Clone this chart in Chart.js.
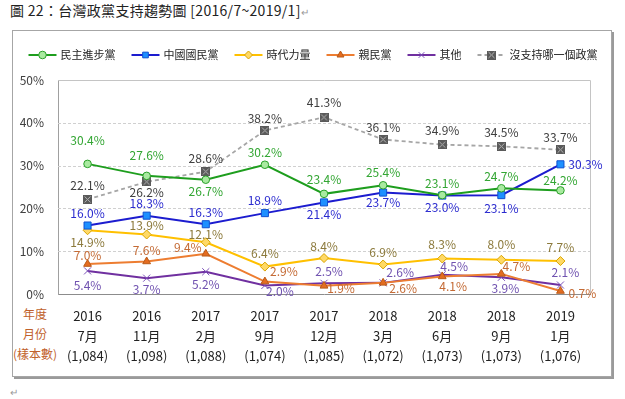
<!DOCTYPE html>
<html lang="zh-Hant">
<head>
<meta charset="UTF-8">
<title>台灣政黨支持趨勢圖</title>
<script src="https://cdn.jsdelivr.net/npm/chart.js@4"></script>
<style>
  body { margin: 0; width: 625px; height: 399px; background: #fff; position: relative; overflow: hidden;
         font-family: "Noto Sans CJK TC", "Noto Sans", sans-serif; }
  #title { position: absolute; left: 10px; top: 0; font-size: 14px; line-height: 20px; color: #222; white-space: nowrap; letter-spacing: 0.3px; }
  .ret { color: #999; font-size: 10px; }
  #box { position: absolute; left: 12px; top: 30px; width: 598px; height: 345px;
         border: 1px solid #a6a6a6; box-shadow: 2px 2px 0 #9a9a9a; }
  #chart { position: absolute; left: 0; top: 0; }
  .side { position: absolute; left: 5px; width: 60px; text-align: center; color: #c0612b; font-size: 12px; line-height: 16px; }
</style>
</head>
<body>
  <div id="title">圖 22：台灣政黨支持趨勢圖 [2016/7~2019/1]<span class="ret">↵</span></div>
  <div id="box"></div>
  <div class="side" style="top:306px">年度</div>
  <div class="side" style="top:326px">月份</div>
  <div class="side" style="top:346px">(樣本數)</div>
  <div class="ret" style="position:absolute;left:10px;top:384px">↵</div>
  <canvas id="chart" width="625" height="399"></canvas>

<script>
// survey waves
const years   = ['2016', '2016', '2017', '2017', '2017', '2018', '2018', '2018', '2019'];
const months  = ['7月', '11月', '2月', '9月', '12月', '3月', '6月', '9月', '1月'];
const samples = ['(1,084)', '(1,098)', '(1,088)', '(1,074)', '(1,085)', '(1,072)', '(1,073)', '(1,073)', '(1,076)'];

// support (%)
const dpp   = [30.4, 27.6, 26.7, 30.2, 23.4, 25.4, 23.1, 24.7, 24.2];
const kmt   = [16.0, 18.3, 16.3, 18.9, 21.4, 23.7, 23.0, 23.1, 30.3];
const npp   = [14.9, 13.9, 12.1, 6.4, 8.4, 6.9, 8.3, 8.0, 7.7];
const pfp   = [7.0, 7.6, 9.4, 2.9, 1.9, 2.6, 4.1, 4.7, 0.7];
const other = [5.4, 3.7, 5.2, 2.0, 2.5, 2.6, 4.5, 3.9, 2.1];
const none  = [22.1, 26.2, 28.6, 38.2, 41.3, 36.1, 34.9, 34.5, 33.7];

const yTicks = [0, 10, 20, 30, 40, 50];

// where each value label sits relative to its point [dx, dy]
const dppOff   = [[0,-23],[0,-20],[0,12],[0,-12],[0,-14],[0,-13],[0,-12],[0,-12],[0,-10]];
const kmtOff   = [[0,-12],[0,-12],[0,-12],[0,-13],[0,12],[0,10],[0,12],[0,13],[25,0]];
const nppOff   = [[0,12],[0,-9],[0,-8],[0,-13],[0,-12],[0,-12],[0,-14],[0,-15],[0,-14]];
const pfpOff   = [[0,-9],[0,-11],[-18,-6],[19,-10],[17,3],[20,6],[11,10],[15,-7],[22,2]];
const otherOff = [[0,15],[0,11],[0,13],[15,6],[5,-12],[17,-10],[12,-8],[4,11],[5,-13]];
const noneOff  = [[0,-14],[0,11],[0,-13],[0,-12],[0,-15],[0,-12],[0,-14],[0,-14],[0,-12]];

// dark square with a light cross, for the "no party" series
const noneMark = document.createElement('canvas');
noneMark.width = noneMark.height = 9;
(function () {
  const m = noneMark.getContext('2d');
  m.fillStyle = '#5a5a5a';
  m.fillRect(0, 0, 9, 9);
  m.strokeStyle = '#b4b4b4';
  m.lineWidth = 1;
  m.beginPath();
  m.moveTo(1.5, 1.5); m.lineTo(7.5, 7.5);
  m.moveTo(7.5, 1.5); m.lineTo(1.5, 7.5);
  m.stroke();
})();

function series(label, data, color, labelColor, offsets, extra) {
  return Object.assign({
    label, data,
    borderColor: color,
    borderWidth: 2,
    tension: 0,
    pointBorderWidth: 1,
    labelColor, offsets
  }, extra);
}

const datasets = [
  series('民主進步黨', dpp, '#1e9e1e', '#33a633', dppOff,
    { pointStyle: 'circle', pointRadius: 3.8, pointBackgroundColor: '#a9eaa0', pointBorderColor: '#2aa02a' }),
  series('中國國民黨', kmt, '#1c1ccf', '#2b2bcf', kmtOff,
    { pointStyle: 'rect', pointRadius: 5, pointBackgroundColor: '#1e90ff', pointBorderColor: '#1050d0' }),
  series('時代力量', npp, '#ffc000', '#8c7a3c', nppOff,
    { pointStyle: 'rectRot', pointRadius: 4.5, pointBackgroundColor: '#ffd966', pointBorderColor: '#d9a400' }),
  series('親民黨', pfp, '#ed7d31', '#c46a34', pfpOff,
    { pointStyle: 'triangle', pointRadius: 4.5, pointBackgroundColor: '#e46c20', pointBorderColor: '#b85a18' }),
  series('其他', other, '#7030a0', '#7052b0', otherOff,
    { pointStyle: 'crossRot', pointRadius: 5, pointBackgroundColor: '#7a50b8', pointBorderColor: '#7a50b8' }),
  series('沒支持哪一個政黨', none, '#a6a6a6', '#404040', noneOff,
    { borderDash: [4, 3], borderWidth: 1.8, pointStyle: noneMark, pointRadius: 4.5,
      pointBackgroundColor: '#5a5a5a', pointBorderColor: '#5a5a5a' })
];

const FONT = '"Noto Sans CJK TC", "Noto Sans", sans-serif';

const plotFrame = {
  id: 'plotFrame',
  beforeDatasetsDraw(chart) {
    const { ctx, chartArea: a, scales: { y } } = chart;
    ctx.save();
    ctx.lineWidth = 1;
    ctx.strokeStyle = '#d0d0d0';
    ctx.setLineDash([3, 2]);
    yTicks.slice(1, -1).forEach(v => {
      const py = Math.round(y.getPixelForValue(v)) + 0.5;
      ctx.beginPath(); ctx.moveTo(a.left, py); ctx.lineTo(a.right, py); ctx.stroke();
    });
    ctx.setLineDash([]);
    ctx.strokeStyle = '#c4c4c4';
    const top = Math.round(y.getPixelForValue(50)) + 0.5;
    const right = Math.round(a.right) + 0.5;
    ctx.beginPath();
    ctx.moveTo(a.left, top); ctx.lineTo(right, top); ctx.lineTo(right, a.bottom);
    ctx.stroke();
    ctx.restore();
  }
};

const valueLabels = {
  id: 'valueLabels',
  afterDatasetsDraw(chart) {
    const { ctx } = chart;
    ctx.save();
    ctx.font = '12px ' + FONT;
    ctx.textAlign = 'center';
    ctx.textBaseline = 'middle';
    chart.data.datasets.forEach((ds, i) => {
      ctx.fillStyle = ds.labelColor;
      chart.getDatasetMeta(i).data.forEach((pt, j) => {
        const [dx, dy] = ds.offsets[j];
        ctx.fillText(ds.data[j].toFixed(1) + '%', pt.x + dx, pt.y + dy);
      });
    });
    ctx.restore();
  }
};

const lineLegend = {
  id: 'lineLegend',
  afterDraw(chart) {
    const { ctx } = chart;
    const lineW = 28, gap = 4, itemGap = 16, cy = 55;
    ctx.save();
    ctx.font = '11px ' + FONT;
    const items = chart.data.datasets.map(ds => ({ ds, w: ctx.measureText(ds.label).width }));
    const total = items.reduce((s, it) => s + lineW + gap + it.w, 0) + itemGap * (items.length - 1);
    let x = 313 - total / 2;
    items.forEach(({ ds, w }) => {
      ctx.strokeStyle = ds.borderColor;
      ctx.lineWidth = ds.borderWidth;
      ctx.setLineDash(ds.borderDash || []);
      ctx.beginPath(); ctx.moveTo(x, cy); ctx.lineTo(x + lineW, cy); ctx.stroke();
      ctx.setLineDash([]);
      ctx.fillStyle = ds.pointBackgroundColor;
      ctx.strokeStyle = ds.pointBorderColor;
      ctx.lineWidth = 1;
      Chart.helpers.drawPoint(ctx, { pointStyle: ds.pointStyle, radius: Math.min(ds.pointRadius, 4), rotation: 0, borderWidth: 1 }, x + lineW / 2, cy);
      ctx.fillStyle = '#222';
      ctx.textBaseline = 'middle';
      ctx.fillText(ds.label, x + lineW + gap, cy);
      x += lineW + gap + w + itemGap;
    });
    ctx.restore();
  }
};

new Chart(document.getElementById('chart'), {
  type: 'line',
  data: {
    labels: years.map((y, i) => [y, months[i], samples[i]]),
    datasets
  },
  options: {
    responsive: false,
    animation: false,
    layout: { padding: { top: 80, right: 35, bottom: 0, left: 0 } },
    plugins: {
      legend: { display: false },
      title: { display: false },
      tooltip: { enabled: false }
    },
    scales: {
      x: {
        offset: true,
        grid: { display: false },
        border: { color: '#8c8c8c' },
        ticks: { color: '#222', padding: 4, maxRotation: 0, autoSkip: false,
                 font: { family: FONT, size: 13, lineHeight: 1.55 } },
        afterFit: s => { s.height = 105; }
      },
      y: {
        min: 0, max: 50,
        afterBuildTicks: s => { s.ticks = yTicks.map(v => ({ value: v })); },
        grid: { display: false },
        border: { color: '#a0a0a0' },
        ticks: { color: '#404040', padding: 6, callback: v => v + '%',
                 font: { family: FONT, size: 12 } },
        afterFit: s => { s.width = 58; }
      }
    }
  },
  plugins: [plotFrame, valueLabels, lineLegend]
});
</script>
</body>
</html>
